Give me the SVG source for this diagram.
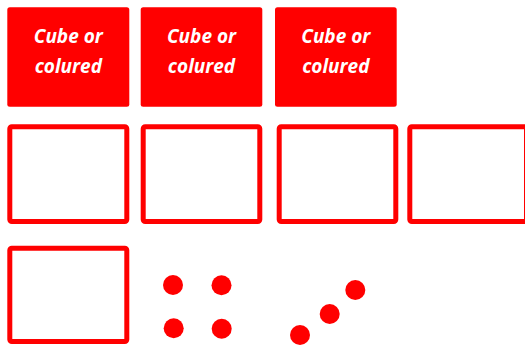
<svg xmlns="http://www.w3.org/2000/svg" width="525" height="345" viewBox="0 0 525 345">
<style>
.fill{fill:#ff0000;}
.outline{fill:#ffffff;stroke:#ff0000;stroke-width:5;}
.lbl{fill:#ffffff;font-family:"Open Sans","Liberation Sans",sans-serif;font-weight:bold;font-style:italic;font-size:19px;text-anchor:middle;}
.dot{fill:#ff0000;}
</style>
<rect width="525" height="345" fill="#ffffff"/>
<g id="card1"><rect class="fill" x="7.3" y="7.3" width="122" height="99.4" rx="2.5"/><text class="lbl" x="68.3" y="43">Cube or</text><text class="lbl" x="68.3" y="73">colured</text></g>
<g id="card2"><rect class="fill" x="140.7" y="7.3" width="121.6" height="99.4" rx="2.5"/><text class="lbl" x="201.5" y="43">Cube or</text><text class="lbl" x="201.5" y="73">colured</text></g>
<g id="card3"><rect class="fill" x="275" y="7.3" width="121.7" height="99.4" rx="2.5"/><text class="lbl" x="335.8" y="43">Cube or</text><text class="lbl" x="335.8" y="73">colured</text></g>
<g id="box1"><rect class="outline" x="9.8" y="126.8" width="117" height="94.7" rx="2"/></g>
<g id="box2"><rect class="outline" x="143.2" y="126.8" width="116.6" height="94.7" rx="2"/></g>
<g id="box3"><rect class="outline" x="279.2" y="126.8" width="116.6" height="94.7" rx="2"/></g>
<g id="box4"><rect class="outline" x="409.8" y="126.8" width="116.7" height="94.7" rx="2"/></g>
<g id="box5"><rect class="outline" x="9.8" y="248.2" width="117" height="93.3" rx="2"/></g>
<g id="dots4">
<circle class="dot" cx="173" cy="285" r="10"/>
<circle class="dot" cx="221.5" cy="285.3" r="10"/>
<circle class="dot" cx="173.7" cy="328.3" r="10"/>
<circle class="dot" cx="221.7" cy="328.7" r="10"/>
</g>
<g id="dots3">
<circle class="dot" cx="355.3" cy="290" r="10"/>
<circle class="dot" cx="329.7" cy="314" r="10"/>
<circle class="dot" cx="300" cy="335" r="10"/>
</g>
</svg>
